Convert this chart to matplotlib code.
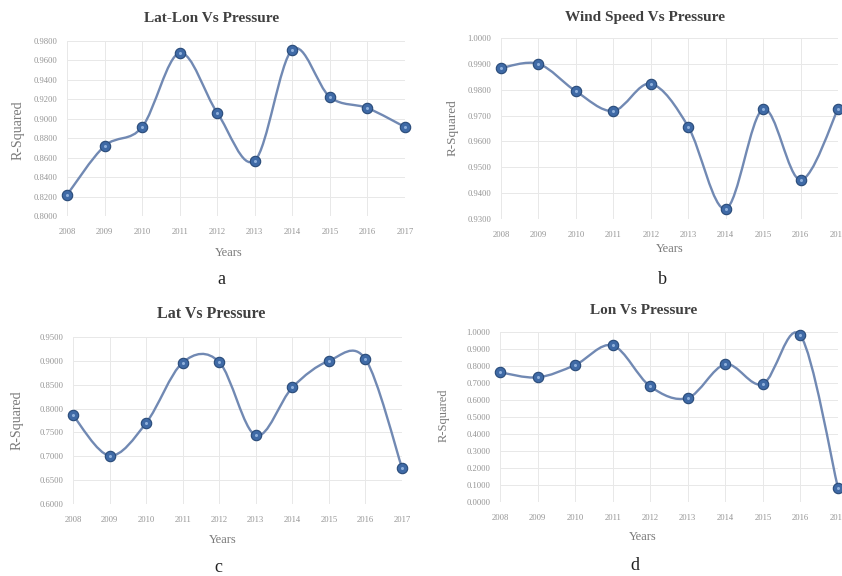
import numpy as np
import matplotlib
matplotlib.use("Agg")
import matplotlib.pyplot as plt
from matplotlib.path import Path
from matplotlib.patches import PathPatch

plt.rcParams['font.family'] = ['Liberation Serif', 'DejaVu Serif']

years = [2008, 2009, 2010, 2011, 2012, 2013, 2014, 2015, 2016, 2017]

latlon = [0.8217, 0.8720, 0.8915, 0.9677, 0.9062, 0.8570, 0.9712, 0.9224, 0.9110, 0.8915]
wind = [0.9884, 0.9900, 0.9794, 0.9718, 0.9823, 0.9657, 0.9339, 0.9725, 0.9451, 0.9725]
lat = [0.7860, 0.7014, 0.7697, 0.8965, 0.8975, 0.7437, 0.8443, 0.9000, 0.9035, 0.6757]
lon = [0.7630, 0.7330, 0.8060, 0.9210, 0.6800, 0.6120, 0.8100, 0.6940, 0.9800, 0.0820]

W, H = 842, 576

def smooth_path(x, y):
    # excel style smoothed line: bezier through each point
    x = np.asarray(x, float)
    y = np.asarray(y, float)
    pts = np.column_stack([x, y])
    verts = [pts[0]]
    codes = [Path.MOVETO]
    n = len(pts)
    for i in range(n - 1):
        p0 = pts[i - 1] if i > 0 else pts[i]
        p1 = pts[i]
        p2 = pts[i + 1]
        p3 = pts[i + 2] if i + 2 < n else pts[i + 1]
        c1 = p1 + (p2 - p0) / 6.0
        c2 = p2 - (p3 - p1) / 6.0
        verts += [c1, c2, p2]
        codes += [Path.CURVE4] * 3
    return Path(verts, codes)

def panel(box, vals, ylim, step, title, tag, title_xy, years_xy, tag_xy, ylab_xy,
          title_fs=11, ylab_fs=9):
    l, t, r, b = box
    ax = fig.add_axes([l / W, 1 - b / H, (r - l) / W, (b - t) / H])
    ax.set_xlim(years[0], years[-1])
    ax.set_ylim(*ylim)
    ax.set_xticks(years)
    ax.set_yticks(np.arange(ylim[0], ylim[1] + step / 2, step))
    ax.set_yticklabels([f'{v:.4f}' for v in ax.get_yticks()])
    ax.grid(True, color='#e8e8e8', linewidth=0.7)
    ax.set_axisbelow(True)
    for s in ax.spines.values():
        s.set_visible(False)
    ax.tick_params(length=0, labelsize=6.2, labelcolor='#959595', pad=7)
    ax.tick_params(axis='x', pad=9)
    ax.add_patch(PathPatch(smooth_path(years, vals), fill=False,
                           edgecolor='#7189b3', linewidth=1.7, clip_on=False))
    ax.plot(years, vals, 'o', ms=7.5, mfc='#3f6aa6', mec='#284a78', mew=0.8, clip_on=False)
    ax.plot(years, vals, 'o', ms=2.2, mfc='#8fb0dc', mec='none', clip_on=False)
    fig.text(title_xy[0] / W, 1 - title_xy[1] / H, title, ha='center', va='center',
             fontsize=title_fs, fontweight='bold', color='#404040')
    fig.text(years_xy[0] / W, 1 - years_xy[1] / H, 'Years', ha='center', va='center',
             fontsize=9, color='#7a7a7a')
    fig.text(tag_xy[0] / W, 1 - tag_xy[1] / H, tag, ha='center', va='center',
             fontsize=13, color='#222222')
    fig.text(ylab_xy[0] / W, 1 - ylab_xy[1] / H, 'R-Squared', ha='center', va='center',
             fontsize=ylab_fs, color='#7a7a7a', rotation=90)
    return ax

fig = plt.figure(figsize=(W / 100, H / 100), dpi=100)

panel((67, 41, 405, 216), latlon, (0.80, 0.98), 0.02, 'Lat-Lon Vs Pressure', 'a',
      (212, 18), (229, 253), (221, 280), (18, 130), 11, 10)
panel((501, 38, 838, 219), wind, (0.93, 1.00), 0.01, 'Wind Speed Vs Pressure', 'b',
      (645, 17), (670, 249), (662, 280), (453, 128), 11, 9.5)
panel((73, 337, 402, 504), lat, (0.60, 0.95), 0.05, 'Lat Vs Pressure', 'c',
      (211, 314), (223, 540), (218, 567), (17, 420), 11.5, 10)
panel((500, 332, 838, 502), lon, (0.0, 1.0), 0.1, 'Lon Vs Pressure', 'd',
      (644, 311), (643, 537), (635, 565), (444, 415), 11, 9)

fig.savefig('out.png', dpi=100)
